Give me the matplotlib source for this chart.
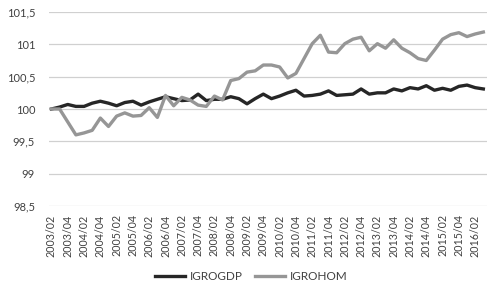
import matplotlib
matplotlib.use("Agg")
import matplotlib.pyplot as plt
from matplotlib import font_manager

# quarterly labels 2003/02 .. 2016/03
quarters = []
for year in range(2003, 2017):
    for q in range(1, 5):
        if (year == 2003 and q < 2) or (year == 2016 and q > 3):
            continue
        quarters.append("%d/%02d" % (year, q))

igrogdp = [100.00, 100.03, 100.07, 100.04, 100.04, 100.09, 100.12, 100.09, 100.05, 100.10,
           100.12, 100.06, 100.11, 100.15, 100.19, 100.16, 100.13, 100.14, 100.23, 100.13,
           100.15, 100.15, 100.19, 100.16, 100.08, 100.16, 100.23, 100.16, 100.20, 100.25,
           100.29, 100.20, 100.21, 100.23, 100.28, 100.21, 100.22, 100.23, 100.31, 100.23,
           100.25, 100.25, 100.31, 100.28, 100.33, 100.31, 100.36, 100.29, 100.32, 100.29,
           100.35, 100.37, 100.33, 100.31]

igrohom = [100.00, 100.00, 99.80, 99.60, 99.63, 99.67, 99.86, 99.73, 99.89, 99.94,
           99.89, 99.90, 100.02, 99.87, 100.21, 100.05, 100.18, 100.14, 100.06, 100.04,
           100.20, 100.14, 100.44, 100.47, 100.57, 100.59, 100.68, 100.68, 100.65, 100.48,
           100.55, 100.78, 101.01, 101.14, 100.88, 100.87, 101.01, 101.08, 101.11, 100.90,
           101.01, 100.94, 101.07, 100.94, 100.87, 100.78, 100.75, 100.91, 101.08, 101.15,
           101.18, 101.12, 101.16, 101.19]

yticks = [98.5, 99, 99.5, 100, 100.5, 101, 101.5]

available = set(f.name for f in font_manager.fontManager.ttflist)
for fam in ["Liberation Sans Narrow", "Lato", "DejaVu Sans"]:
    if fam in available:
        plt.rcParams['font.family'] = fam
        break

fig = plt.figure(figsize=(4.87, 2.86), dpi=100)
ax = fig.add_axes([49 / 487, 1 - 206 / 286, 1 - 49 / 487, (206 - 12) / 286])

x = list(range(len(quarters)))
ax.plot(x, igrogdp, color='#262626', linewidth=2.4, label='IGROGDP', solid_joinstyle='round')
ax.plot(x, igrohom, color='#969696', linewidth=2.4, label='IGROHOM', solid_joinstyle='round')

ax.set_ylim(98.5, 101.5)
ax.set_xlim(-0.3, 53.45)
ax.set_yticks(yticks)
ax.set_yticklabels([("%g" % v).replace('.', ',') for v in yticks])
ax.set_xticks(x[::2])
ax.set_xticklabels(quarters[::2], rotation=90)

ax.grid(axis='y', color='#d0d0d0', linewidth=0.9)
ax.set_axisbelow(True)
for s in ax.spines.values():
    s.set_visible(False)
ax.tick_params(axis='both', length=0, colors='#404040')
ax.tick_params(axis='y', labelsize=8, pad=10)
ax.tick_params(axis='x', labelsize=7.7, pad=6)
for t in ax.get_xticklabels() + ax.get_yticklabels():
    t.set_color('#404040')

fig.legend(loc='center', bbox_to_anchor=(0.516, 0.032), ncol=2, frameon=False,
           fontsize=8.5, handlelength=2.5, columnspacing=1.1, handletextpad=0.4,
           labelcolor='#404040')

plt.savefig("out.png", dpi=100)
